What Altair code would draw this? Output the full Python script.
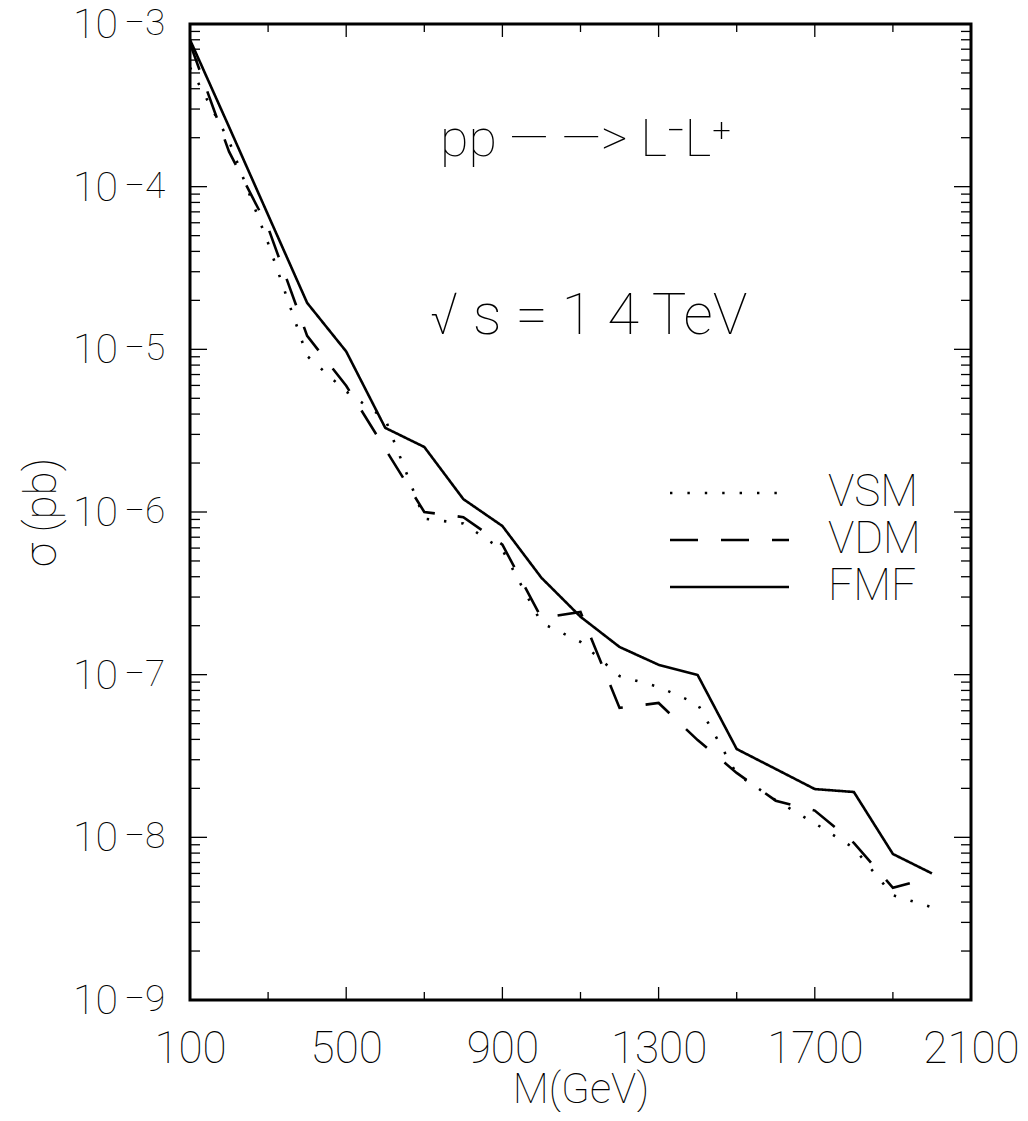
import altair as alt
import pandas as pd

# ---------------- data ----------------
masses = [100, 200, 300, 400, 500, 600, 700, 800, 900, 1000,
          1100, 1200, 1300, 1400, 1500, 1600, 1700, 1800, 1900, 2000]

vsm = [5.4e-4, 1.91e-4, 4.5e-5, 9.1e-6, 5.5e-6, 3.73e-6, 9.1e-7, 8.5e-7, 5.85e-7, 2.08e-7,
       1.59e-7, 9.8e-8, 8.4e-8, 6.6e-8, 2.45e-8, 1.69e-8, 1.22e-8, 8.6e-9, 4.4e-9, 3.72e-9]
vdm = [7.6e-4, 1.64e-4, 5.6e-5, 1.21e-5, 5.97e-6, 2.44e-6, 1.0e-6, 9.3e-7, 6.3e-7, 2.23e-7,
       2.43e-7, 6.25e-8, 6.7e-8, 3.96e-8, 2.49e-8, 1.68e-8, 1.46e-8, 9.25e-9, 4.89e-9, 5.7e-9]
fmf = [8.0e-4, 2.33e-4, 6.7e-5, 1.93e-5, 9.7e-6, 3.29e-6, 2.51e-6, 1.20e-6, 8.2e-7, 3.94e-7,
       2.27e-7, 1.48e-7, 1.15e-7, 9.95e-8, 3.49e-8, 2.63e-8, 1.98e-8, 1.90e-8, 7.9e-9, 6.0e-9]

models = ["VSM", "VDM", "FMF"]
dashes = [[2.4, 15], [28, 23], [1, 0]]

x_label_values = [100, 500, 900, 1300, 1700, 2100]
x_major_ticks = [500, 900, 1300, 1700]
x_minor_ticks = [300, 700, 1100, 1500, 1900]

y_decades = [1e-3, 1e-4, 1e-5, 1e-6, 1e-7, 1e-8, 1e-9]
y_exponents = ["−3", "−4", "−5", "−6", "−7", "−8", "−9"]
y_minor = [m * 10.0 ** e for e in range(-9, -3) for m in range(2, 10)]

FONT = "Roboto"
FW = 100

W, H = 781, 976

rows = []
for name, vals in zip(models, [vsm, vdm, fmf]):
    for m, v in zip(masses, vals):
        rows.append({"M": m, "sigma": v, "model": name})
df = pd.DataFrame(rows)

xscale = alt.Scale(domain=[100, 2100], nice=False, zero=False)
yscale = alt.Scale(type="log", domain=[1e-9, 1e-3], nice=False)

lines = alt.Chart(df).mark_line(color="black", strokeWidth=2.6, clip=True).encode(
    x=alt.X("M:Q", scale=xscale,
            axis=alt.Axis(values=x_label_values, title="M(GeV)", ticks=False, domain=False,
                          grid=False, labelFont=FONT, labelFontWeight=FW, labelFontSize=44,
                          labelColor="black", labelPadding=27, labelFlush=False,
                          labelOverlap=False, labelBound=False,
                          titleFont=FONT, titleFontWeight=FW, titleFontSize=42,
                          titleColor="black", titlePadding=-2, format="d")),
    y=alt.Y("sigma:Q", scale=yscale,
            axis=alt.Axis(labels=False, ticks=False, domain=False, grid=False,
                          title="σ (pb)", titleFont=FONT, titleFontWeight=FW,
                          titleFontSize=44, titleColor="black",
                          titleX=-148, titleY=H / 2, titleAngle=-90,
                          titleAlign="center", titleBaseline="middle")),
    strokeDash=alt.StrokeDash("model:N",
                              scale=alt.Scale(domain=models, range=dashes),
                              legend=None),
    order=alt.Order("M:Q"),
)

# manual legend inside the plot
legend_layers = []
for i, (name, dash) in enumerate(zip(models, dashes)):
    ly = 469 + 47 * i
    ld = pd.DataFrame({"model": [name]})
    legend_layers.append(
        alt.Chart(ld).mark_rule(color="black", strokeWidth=2.6, strokeDash=dash).encode(
            x=alt.value(480), x2=alt.value(599), y=alt.value(ly)))
    legend_layers.append(
        alt.Chart(ld).mark_text(font=FONT, fontWeight=FW, fontSize=44, align="left",
                                baseline="middle", color="black").encode(
            x=alt.value(638), y=alt.value(ly), text="model:N"))

# ticks (inward) built from tick value arrays, placed through the scales
def vrule(values, y0, y1):
    d = pd.DataFrame({"v": values})
    return alt.Chart(d).mark_rule(color="black", strokeWidth=1.3).encode(
        x=alt.X("v:Q", scale=xscale), y=alt.value(y0), y2=alt.value(y1))

def hrule(values, x0, x1):
    d = pd.DataFrame({"v": values})
    return alt.Chart(d).mark_rule(color="black", strokeWidth=1.3).encode(
        y=alt.Y("v:Q", scale=yscale), x=alt.value(x0), x2=alt.value(x1))

ticks = [
    vrule(x_major_ticks, H, H - 13), vrule(x_minor_ticks, H, H - 8),
    vrule(x_major_ticks, 0, 13), vrule(x_minor_ticks, 0, 8),
    hrule(y_decades, 0, 17), hrule(y_minor, 0, 10),
    hrule(y_decades, W, W - 17), hrule(y_minor, W, W - 10),
]

# y tick labels 10^-n
ylab_df = pd.DataFrame({"v": y_decades, "e": y_exponents})
ybase = alt.Chart(ylab_df).mark_text(font=FONT, fontWeight=FW, fontSize=41, align="right",
                                     baseline="middle", color="black", dy=2).encode(
    y=alt.Y("v:Q", scale=yscale), x=alt.value(-72), text=alt.value("10"))
yexp = alt.Chart(ylab_df).mark_text(font=FONT, fontWeight=FW, fontSize=37, align="left",
                                    baseline="middle", color="black", dy=0).encode(
    y=alt.Y("v:Q", scale=yscale), x=alt.value(-66), text="e:N")

# annotations
ann1 = alt.Chart(pd.DataFrame({"t": ["pp — —> L⁻L⁺"]})).mark_text(
    font=FONT, fontWeight=FW, fontSize=52, align="left", baseline="alphabetic",
    color="black").encode(x=alt.value(250), y=alt.value(132), text="t:N")
ann2 = alt.Chart(pd.DataFrame({"t": ["√  s = 1 4 TeV"]})).mark_text(
    font=FONT, fontWeight=FW, fontSize=58, align="left", baseline="alphabetic",
    color="black").encode(x=alt.value(240), y=alt.value(310), text="t:N")

chart = alt.layer(lines, *legend_layers, *ticks, ybase, yexp, ann1, ann2).properties(
    width=W, height=H,
    background="white",
    autosize=alt.AutoSizeParams(type="none"),
    padding={"left": 182, "top": 16, "right": 48, "bottom": 112},
).configure_view(stroke="black", strokeWidth=3)

chart.save("out.html", embed_options={"renderer": "svg", "actions": False})
